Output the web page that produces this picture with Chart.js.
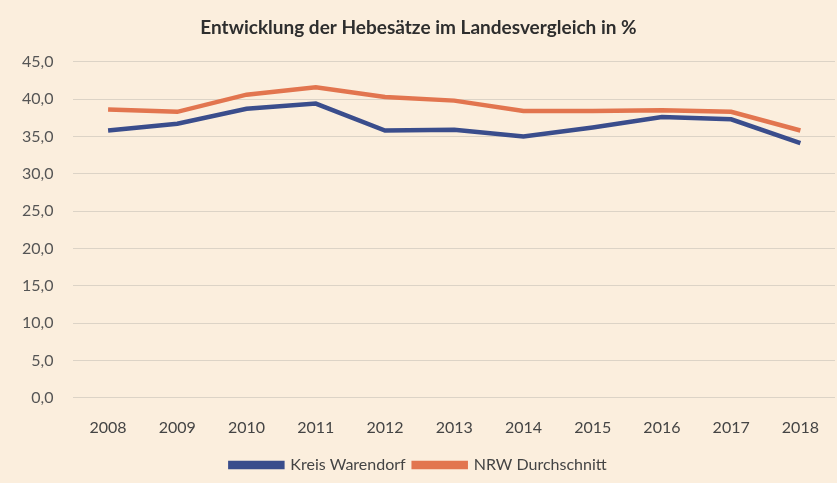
<!DOCTYPE html>
<html>
<head>
<meta charset="utf-8">
<script src="https://cdn.jsdelivr.net/npm/chart.js@4"></script>
<style>
  html, body { margin: 0; padding: 0; background: #fbeedd; }
  #wrap { width: 837px; height: 483px; }
</style>
</head>
<body>
<div id="wrap"><canvas id="lineChart"></canvas></div>
<script>
const years = ['2008', '2009', '2010', '2011', '2012', '2013', '2014', '2015', '2016', '2017', '2018'];
const kreisWarendorf = [35.8, 36.7, 38.7, 39.4, 35.8, 35.9, 35.0, 36.2, 37.6, 37.3, 34.1];
const nrwDurchschnitt = [38.6, 38.3, 40.6, 41.6, 40.3, 39.8, 38.4, 38.4, 38.5, 38.3, 35.8];

const ctx = document.getElementById('lineChart').getContext('2d');
new Chart(ctx, {
    type: 'line',
    data: {
        labels: years,
        datasets: [{
            label: 'Kreis Warendorf',
            data: kreisWarendorf,
            borderColor: '#3a4d8c',
            backgroundColor: '#3a4d8c',
            borderWidth: 4.5,
            pointRadius: 0,
            tension: 0
        }, {
            label: 'NRW Durchschnitt',
            data: nrwDurchschnitt,
            borderColor: '#e2754f',
            backgroundColor: '#e2754f',
            borderWidth: 4.5,
            pointRadius: 0,
            tension: 0
        }]
    },
    options: {
        responsive: true,
        maintainAspectRatio: false,
        animation: false,
        layout: { padding: { left: 2, right: 2, top: 4, bottom: 0 } },
        plugins: {
            title: {
                display: true,
                text: 'Entwicklung der Hebesätze im Landesvergleich in %',
                color: '#2e2e2e',
                font: { family: 'Lato', size: 19, weight: 'bold' },
                padding: { top: 12, bottom: 23 }
            },
            legend: {
                position: 'bottom',
                labels: {
                    boxWidth: 52,
                    boxHeight: 4,
                    padding: 8,
                    color: '#444',
                    font: { family: 'Lato', size: 16 }
                }
            },
            tooltip: { enabled: false }
        },
        scales: {
            x: {
                offset: true,
                grid: { display: false },
                border: { display: false },
                ticks: {
                    color: '#444',
                    padding: 12,
                    font: { family: 'Lato', size: 16 }
                }
            },
            y: {
                min: 0,
                max: 45,
                border: { display: false },
                grid: { color: '#dcd3c6', lineWidth: 1, drawTicks: false },
                ticks: {
                    stepSize: 5,
                    color: '#555',
                    padding: 20,
                    font: { family: 'Lato', size: 16 },
                    callback: v => v.toFixed(1).replace('.', ',')
                }
            }
        }
    }
});
</script>
</body>
</html>
